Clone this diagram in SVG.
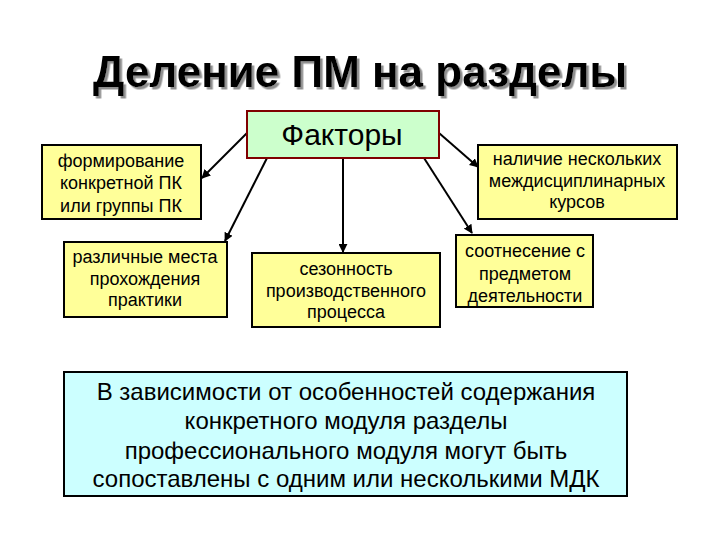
<svg xmlns="http://www.w3.org/2000/svg" width="720" height="540" viewBox="0 0 720 540">
<style>
text{font-family:"Liberation Sans",Arial,sans-serif;text-anchor:middle;fill:#000}
.y{fill:#ffff99;stroke:#000;stroke-width:2}
.t{font-size:18px}
.b{font-size:24px}
.c{stroke:#000;stroke-width:2;fill:none;marker-end:url(#ah)}
</style>
<defs>
<marker id="ah" viewBox="0 0 10 10" refX="9" refY="5" markerWidth="4.5" markerHeight="4.5" orient="auto" markerUnits="strokeWidth">
<path d="M0,0 L10,5 L0,10 z" fill="#000"/>
</marker>
<filter id="sh" x="-5%" y="-20%" width="110%" height="140%">
<feDropShadow dx="2.5" dy="2.5" stdDeviation="0.6" flood-color="#909090" flood-opacity="1"/>
</filter>
</defs>
<rect width="720" height="540" fill="#fff"/>
<g id="title">
<text x="360" y="87" font-size="44" font-weight="bold" filter="url(#sh)">Деление ПМ на разделы</text>
</g>
<g id="connectors">
<line class="c" x1="247" y1="133" x2="202" y2="178"/>
<line class="c" x1="267" y1="158" x2="225" y2="241"/>
<line class="c" x1="343" y1="158" x2="343" y2="252"/>
<line class="c" x1="424" y1="158" x2="472" y2="233"/>
<line class="c" x1="439" y1="133" x2="478" y2="167"/>
</g>
<g id="factors">
<rect x="247" y="111" width="192" height="47" fill="#ccffcc" stroke="#800000" stroke-width="2"/>
<text x="342" y="145" font-size="30">Факторы</text>
</g>
<g id="n1">
<rect class="y" x="42" y="145" width="159" height="74"/>
<text class="t" x="121" y="167">формирование</text>
<text class="t" x="121" y="189">конкретной ПК</text>
<text class="t" x="121" y="212">или группы ПК</text>
</g>
<g id="n2">
<rect class="y" x="478" y="145" width="199" height="74"/>
<text class="t" x="577" y="165">наличие нескольких</text>
<text class="t" x="577" y="187">междисциплинарных</text>
<text class="t" x="577" y="208">курсов</text>
</g>
<g id="n3">
<rect class="y" x="64" y="242" width="163" height="75"/>
<text class="t" x="145" y="263">различные места</text>
<text class="t" x="145" y="285">прохождения</text>
<text class="t" x="145" y="306">практики</text>
</g>
<g id="n4">
<rect class="y" x="252" y="253" width="188" height="74"/>
<text class="t" x="346" y="275">сезонность</text>
<text class="t" x="346" y="297">производственного</text>
<text class="t" x="346" y="318">процесса</text>
</g>
<g id="n5">
<rect class="y" x="456" y="235" width="137" height="72"/>
<text class="t" x="525" y="257">соотнесение с</text>
<text class="t" x="525" y="280">предметом</text>
<text class="t" x="525" y="302">деятельности</text>
</g>
<g id="note">
<rect x="64" y="372" width="563" height="124" fill="#ccffff" stroke="#000" stroke-width="2"/>
<text class="b" x="346" y="400">В зависимости от особенностей содержания</text>
<text class="b" x="346" y="429">конкретного модуля разделы</text>
<text class="b" x="346" y="459">профессионального модуля могут быть</text>
<text class="b" x="346" y="487">сопоставлены с одним или несколькими МДК</text>
</g>
</svg>
